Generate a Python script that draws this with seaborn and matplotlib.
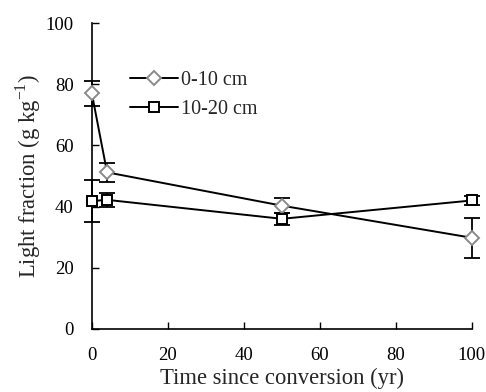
import pandas as pd
import matplotlib
matplotlib.use("Agg")
import matplotlib.pyplot as plt
import seaborn as sns

# data
years = [0, 4, 50, 100]
lf_0_10 = [77, 51.2, 40.3, 29.8]
err_0_10 = [4, 3, 2.5, 6.5]
lf_10_20 = [41.8, 42.2, 36, 42]
err_10_20 = [7, 2.2, 2, 1.5]
depths = ["0-10 cm", "10-20 cm"]

df = pd.DataFrame({
	"year": years * 2,
	"lf": lf_0_10 + lf_10_20,
	"err": err_0_10 + err_10_20,
	"depth": [depths[0]] * 4 + [depths[1]] * 4,
})

sns.set_style("ticks")
plt.rcParams["font.family"] = ["Liberation Serif", "DejaVu Serif"]
plt.rcParams["mathtext.fontset"] = "custom"
plt.rcParams["mathtext.rm"] = "Liberation Serif"

fig = plt.figure(figsize=(4.86, 3.92), dpi=100)
ax = fig.add_axes([0.189, 0.161, 0.782, 0.78])

# error bars first so markers sit on top
for d in depths:
	sub = df[df["depth"] == d]
	eb = ax.errorbar(sub["year"], sub["lf"], yerr=sub["err"], fmt="none",
					 ecolor="black", elinewidth=1.3, capsize=6, capthick=1.3, zorder=2)
	for art in eb.lines[1] + eb.lines[2]:
		art.set_clip_on(False)

sns.lineplot(data=df, x="year", y="lf", hue="depth", style="depth",
			 markers={"0-10 cm": "D", "10-20 cm": "s"}, dashes=False,
			 palette={"0-10 cm": "black", "10-20 cm": "black"},
			 linewidth=1.4, markersize=7.5, markerfacecolor="white",
			 markeredgecolor="black", markeredgewidth=1.4, ax=ax, zorder=3)

# diamonds are grey in the original
for ln in ax.get_lines():
	ln.set_clip_on(False)
	if ln.get_marker() == "D":
		ln.set_markeredgecolor("#8a8a8a")
		ln.set_markersize(7)

ax.set_xlim(0, 100)
ax.set_ylim(0, 100)
ax.set_xticks(range(0, 101, 20))
ax.set_yticks(range(0, 101, 20))
ax.tick_params(direction="in", length=5, width=1, labelsize=13.5, colors="black")
ax.tick_params(axis="y", pad=13)
ax.tick_params(axis="x", pad=13)
for s in ["top", "right"]:
	ax.spines[s].set_visible(False)
for s in ["left", "bottom"]:
	ax.spines[s].set_color("black")
	ax.spines[s].set_linewidth(1.2)

ax.set_xlabel("Time since conversion (yr)", fontsize=16.3, labelpad=3)
ax.set_ylabel(r"Light fraction (g kg$^{\mathregular{-1}}$)", fontsize=16.3, labelpad=2)

leg = ax.legend(title=None, frameon=False, loc="upper left",
				bbox_to_anchor=(0.078, 0.87), fontsize=14.5,
				handlelength=2.4, handletextpad=0.15, labelspacing=0.5,
				borderaxespad=0)
for h in leg.legend_handles:
	h.set_markeredgecolor("#8a8a8a" if h.get_marker() == "D" else "black")

fig.savefig("out.png", dpi=100)
